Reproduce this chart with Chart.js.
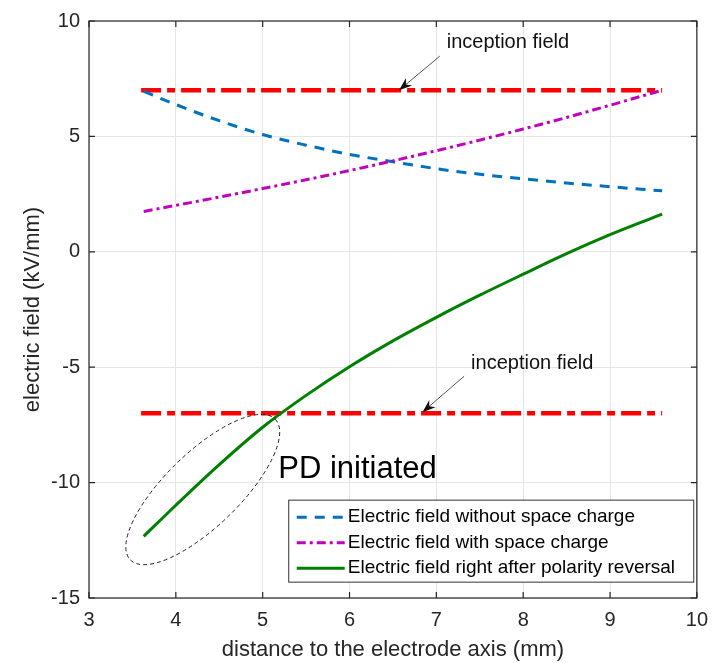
<!DOCTYPE html>
<html>
<head>
<meta charset="utf-8">
<script src="https://cdn.jsdelivr.net/npm/chart.js@4.4.0/dist/chart.umd.min.js"></script>
<style>
  html, body { margin: 0; padding: 0; background: #fff; }
  #wrap { width: 718px; height: 663px; }
</style>
</head>
<body>
<div id="wrap"><canvas id="fieldChart" width="718" height="663"></canvas></div>
<script>
// values
const distance = [3.63, 4, 4.5, 5, 5.5, 6, 6.5, 7, 7.5, 8, 8.5, 9, 9.6];
const noSpaceCharge = [6.95, 6.38, 5.68, 5.08, 4.62, 4.22, 3.9, 3.6, 3.36, 3.16, 2.98, 2.82, 2.64];
const withSpaceCharge = [1.75, 2.01, 2.37, 2.74, 3.12, 3.52, 3.94, 4.38, 4.84, 5.32, 5.82, 6.35, 7.0];
const afterReversal = [-12.33, -10.98, -9.22, -7.6, -6.22, -4.98, -3.86, -2.84, -1.88, -0.97, -0.08, 0.74, 1.63];
const inceptionX = [3.6, 9.6];
const inceptionPos = [7, 7];
const inceptionNeg = [-7, -7];
const xTicks = [3, 4, 5, 6, 7, 8, 9, 10];
const yTicks = [-15, -10, -5, 0, 5, 10];

const FONT = "'Liberation Sans', Arial, sans-serif";
const TXT = '#262626';

function pts(xs, ys) {
    return xs.map((x, i) => ({ x: x, y: ys[i] }));
}

// annotations + legend + box, drawn on top
const extras = {
    id: 'extras',
    afterDraw(chart) {
        const ctx = chart.ctx;
        const xs = chart.scales.x, ys = chart.scales.y;
        const a = chart.chartArea;
        const px = v => xs.getPixelForValue(v);
        const py = v => ys.getPixelForValue(v);
        ctx.save();

        // box + inward ticks
        ctx.strokeStyle = TXT;
        ctx.lineWidth = 1.2;
        ctx.strokeRect(a.left, a.top, a.right - a.left, a.bottom - a.top);
        ctx.beginPath();
        xTicks.forEach(t => {
            const x = px(t);
            ctx.moveTo(x, a.bottom); ctx.lineTo(x, a.bottom - 6);
            ctx.moveTo(x, a.top); ctx.lineTo(x, a.top + 6);
        });
        yTicks.forEach(t => {
            const y = py(t);
            ctx.moveTo(a.left, y); ctx.lineTo(a.left + 6, y);
            ctx.moveTo(a.right, y); ctx.lineTo(a.right - 6, y);
        });
        ctx.stroke();

        // arrows
        function arrow(x0, y0, x1, y1) {
            const sx = px(x0), sy = py(y0), ex = px(x1), ey = py(y1);
            const ang = Math.atan2(ey - sy, ex - sx);
            ctx.strokeStyle = '#555';
            ctx.lineWidth = 1;
            ctx.beginPath(); ctx.moveTo(sx, sy); ctx.lineTo(ex, ey); ctx.stroke();
            ctx.fillStyle = '#111';
            ctx.beginPath();
            ctx.moveTo(ex, ey);
            ctx.lineTo(ex - 14 * Math.cos(ang - 0.35), ey - 14 * Math.sin(ang - 0.35));
            ctx.lineTo(ex - 9 * Math.cos(ang), ey - 9 * Math.sin(ang));
            ctx.lineTo(ex - 14 * Math.cos(ang + 0.35), ey - 14 * Math.sin(ang + 0.35));
            ctx.closePath();
            ctx.fill();
        }
        arrow(7.04, 8.48, 6.57, 7.0);
        arrow(7.32, -5.39, 6.84, -6.95);

        ctx.fillStyle = '#111';
        ctx.font = '20px ' + FONT;
        ctx.textAlign = 'left';
        ctx.textBaseline = 'middle';
        ctx.fillText('inception field', px(7.12), py(9.07));
        ctx.fillText('inception field', px(7.4), py(-4.85));

        ctx.font = '31px ' + FONT;
        ctx.fillStyle = '#000';
        ctx.fillText('PD initiated', px(5.18), py(-9.43));

        // dashed ellipse around the PD region
        ctx.strokeStyle = '#222';
        ctx.lineWidth = 1;
        ctx.setLineDash([4, 3]);
        ctx.beginPath();
        ctx.ellipse(px(4.31), py(-10.3), 101, 37, -0.77, 0, Math.PI * 2);
        ctx.stroke();
        ctx.setLineDash([]);

        // legend
        const lx = px(5.3), ly = py(-10.76), lw = 405, lh = 82;
        ctx.fillStyle = '#fff';
        ctx.fillRect(lx, ly, lw, lh);
        ctx.strokeStyle = '#333';
        ctx.lineWidth = 1;
        ctx.strokeRect(lx, ly, lw, lh);
        ctx.font = '19px ' + FONT;
        chart.data.datasets
            .filter(d => d.legendRank !== undefined)
            .sort((p, q) => p.legendRank - q.legendRank)
            .forEach((d, i) => {
                const y = ly + 17 + i * 25.5;
                ctx.strokeStyle = d.borderColor;
                ctx.lineWidth = d.borderWidth;
                ctx.setLineDash(d.borderDash || []);
                ctx.beginPath(); ctx.moveTo(lx + 8, y); ctx.lineTo(lx + 56, y); ctx.stroke();
                ctx.setLineDash([]);
                ctx.fillStyle = '#000';
                ctx.fillText(d.label, lx + 59, y);
            });
        ctx.restore();
    }
};

new Chart(document.getElementById('fieldChart').getContext('2d'), {
    type: 'line',
    data: {
        datasets: [
            { label: 'Electric field right after polarity reversal', data: pts(distance, afterReversal), borderColor: '#008000', borderWidth: 3, legendRank: 2 },
            { label: 'Electric field with space charge', data: pts(distance, withSpaceCharge), borderColor: '#bf00bf', borderWidth: 3, borderDash: [9, 4, 3, 4], legendRank: 1 },
            { label: 'Electric field without space charge', data: pts(distance, noSpaceCharge), borderColor: '#0072bd', borderWidth: 3, borderDash: [10, 8], legendRank: 0 },
            { label: 'inception +', data: pts(inceptionX, inceptionPos), borderColor: '#ff0000', borderWidth: 4.5, borderDash: [20, 6, 8, 6] },
            { label: 'inception -', data: pts(inceptionX, inceptionNeg), borderColor: '#ff0000', borderWidth: 4.5, borderDash: [20, 6, 8, 6] }
        ].map(d => Object.assign(d, { pointRadius: 0, fill: false, cubicInterpolationMode: 'monotone' }))
    },
    options: {
        responsive: false,
        animation: false,
        layout: { padding: { top: 18, right: 18, left: 0, bottom: 0 } },
        plugins: { legend: { display: false }, tooltip: { enabled: false } },
        scales: {
            x: {
                type: 'linear', min: 3, max: 10,
                afterFit: s => { s.height = 65; },
                afterBuildTicks: s => { s.ticks = xTicks.map(v => ({ value: v })); },
                grid: { color: '#e6e6e6', drawTicks: false },
                border: { display: false },
                ticks: { color: TXT, font: { family: FONT, size: 20 }, padding: 10, maxRotation: 0 },
                title: { display: true, text: 'distance to the electrode axis (mm)', color: TXT, font: { family: FONT, size: 22 }, padding: { top: 4, bottom: 0 } }
            },
            y: {
                type: 'linear', min: -15, max: 10,
                afterFit: s => { s.width = 89; },
                afterBuildTicks: s => { s.ticks = yTicks.map(v => ({ value: v })); },
                grid: { color: '#e6e6e6', drawTicks: false },
                border: { display: false },
                ticks: { color: TXT, font: { family: FONT, size: 20 }, padding: 9 },
                title: { display: true, text: 'electric field (kV/mm)', color: TXT, font: { family: FONT, size: 22 }, padding: { top: 20, bottom: 0 } }
            }
        }
    },
    plugins: [extras]
});
</script>
</body>
</html>
